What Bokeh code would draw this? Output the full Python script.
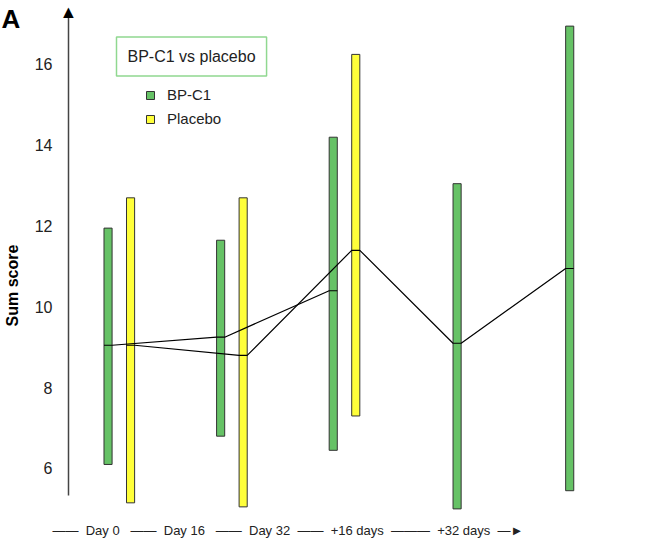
import math
from bokeh.plotting import figure
from bokeh.models import ColumnDataSource, Label, Legend, LegendItem, FixedTicker, Range1d
from bokeh.embed import file_html
from bokeh.resources import INLINE

# ---------------- data ----------------
categories = ["Day 0", "Day 16", "Day 32", "+16 days", "+32 days"]

# BP-C1 (treatment phase: Day 0, Day 16, Day 32)
bpc1_low = [6.1, 6.8, 6.45]
bpc1_high = [11.95, 11.65, 14.2]
bpc1_mean = [9.05, 9.25, 10.4]

# Placebo (treatment phase: Day 0, Day 16, Day 32)
placebo_low = [5.15, 5.05, 7.3]
placebo_high = [12.7, 12.7, 16.25]
placebo_mean = [9.05, 8.8, 11.4]

# Follow-up (+16 days, +32 days)
followup_low = [5.0, 5.45]
followup_high = [13.05, 16.95]
followup_mean = [9.1, 10.95]

y_ticks = [6, 8, 10, 12, 14, 16]

# ---------------- layout / style ----------------
W, H = 660, 538
AXIS_PX = 68            # pixel column of the y axis
PX_X = 112.6            # pixels per category step
X0 = -118.8 / PX_X      # first category centre sits at pixel 118.8
X1 = X0 + W / PX_X
PX_Y = 40.4
Y1 = 17.584
Y0 = Y1 - H / PX_Y
DODGE = 0.1
BAR_W = 0.072
GREEN = "#66c266"
YELLOW = "#ffff3a"
EDGE = "#333333"
FONT = "Liberation Sans"


def cx(px):
    return X0 + px / PX_X


def cy(py):
    return Y1 - py / PX_Y


p = figure(width=W, height=H, x_range=Range1d(X0, X1), y_range=Range1d(Y0, Y1),
           x_axis_location=None, toolbar_location=None, output_backend="svg",
           min_border_left=0, min_border_right=0, min_border_top=0,
           min_border_bottom=0, outline_line_color=None)
p.title.visible = False
p.grid.visible = False
p.background_fill_color = "white"
p.border_fill_color = "white"

ya = p.yaxis[0]
ya.fixed_location = cx(AXIS_PX)
ya.ticker = FixedTicker(ticks=y_ticks)
ya.bounds = (cy(495), cy(12))
ya.major_tick_line_color = None
ya.minor_tick_line_color = None
ya.major_label_standoff = 10
ya.major_label_text_font = FONT
ya.major_label_text_font_size = "16px"
ya.major_label_text_color = "#222222"
ya.axis_line_color = "#444444"
ya.axis_line_width = 1.5

n_tr = len(bpc1_mean)
x_g = [i - DODGE for i in range(n_tr)]
x_y = [i + DODGE for i in range(n_tr)]
x_f = [n_tr + i for i in range(len(followup_mean))]

src_g = ColumnDataSource(dict(x=x_g, low=bpc1_low, high=bpc1_high))
src_y = ColumnDataSource(dict(x=x_y, low=placebo_low, high=placebo_high))
src_f = ColumnDataSource(dict(x=x_f, low=followup_low, high=followup_high))

bar_kw = dict(width=BAR_W, bottom="low", top="high", line_color=EDGE, line_width=1)
r_g = p.vbar(x="x", source=src_g, fill_color=GREEN, **bar_kw)
r_y = p.vbar(x="x", source=src_y, fill_color=YELLOW, **bar_kw)
r_f = p.vbar(x="x", source=src_f, fill_color=GREEN, **bar_kw)


def edge_line(xs, ms):
    lx, ly = [], []
    for x, m in zip(xs, ms):
        lx += [x - BAR_W / 2, x + BAR_W / 2]
        ly += [m, m]
    return lx, ly


gx, gy = edge_line(x_g, bpc1_mean)
px_, py_ = edge_line(x_y + x_f, placebo_mean + followup_mean)
p.line(gx, gy, line_color="black", line_width=1.2)
p.line(px_, py_, line_color="black", line_width=1.2)

legend = Legend(items=[LegendItem(label="BP-C1", renderers=[r_g]),
                       LegendItem(label="Placebo", renderers=[r_y])],
                location=(145, 411), padding=8, spacing=7,
                glyph_width=10, glyph_height=10, label_standoff=12,
                label_text_font=FONT, label_text_font_size="15px",
                label_text_color="#222222",
                background_fill_alpha=0, border_line_color=None)
p.add_layout(legend)

p.add_layout(Label(x=cx(116), y=cy(56), text="BP-C1 vs placebo", text_font=FONT,
                   text_font_size="16px", text_color="#222222", text_align="left",
                   text_baseline="middle", padding=11, border_line_color="#90d890",
                   border_line_width=1.5, background_fill_color="white"))

p.add_layout(Label(x=cx(1), y=cy(3), text="A", text_font=FONT, text_font_size="26px",
                   text_font_style="bold", text_color="black", text_align="left",
                   text_baseline="top"))

p.add_layout(Label(x=cx(12), y=cy(285), text="Sum score", angle=math.pi / 2,
                   text_font=FONT, text_font_size="16px", text_font_style="bold",
                   text_color="black", text_align="center", text_baseline="middle"))

p.add_layout(Label(x=cx(AXIS_PX), y=cy(1), text="\u25b2", text_font=FONT,
                   text_font_size="18px", text_color="black", text_align="center",
                   text_baseline="top"))

nb = "\u00a0"
seps = ["\u2014\u2014", "\u2014\u2014", "\u2014\u2014", "\u2014\u2014", "\u2014\u2014\u2014"]
gaps_after = [3, 3, 2, 2, 2]
row = ""
for s, c, g in zip(seps, categories, gaps_after):
    row += s + nb * 2 + c + nb * g
row += "\u2014\u25ba"
p.add_layout(Label(x=cx(52), y=cy(530), text=row, text_font=FONT, text_font_size="13px",
                   text_color="#222222", text_align="left", text_baseline="middle"))

open("out.html", "w").write(file_html(p, INLINE))
